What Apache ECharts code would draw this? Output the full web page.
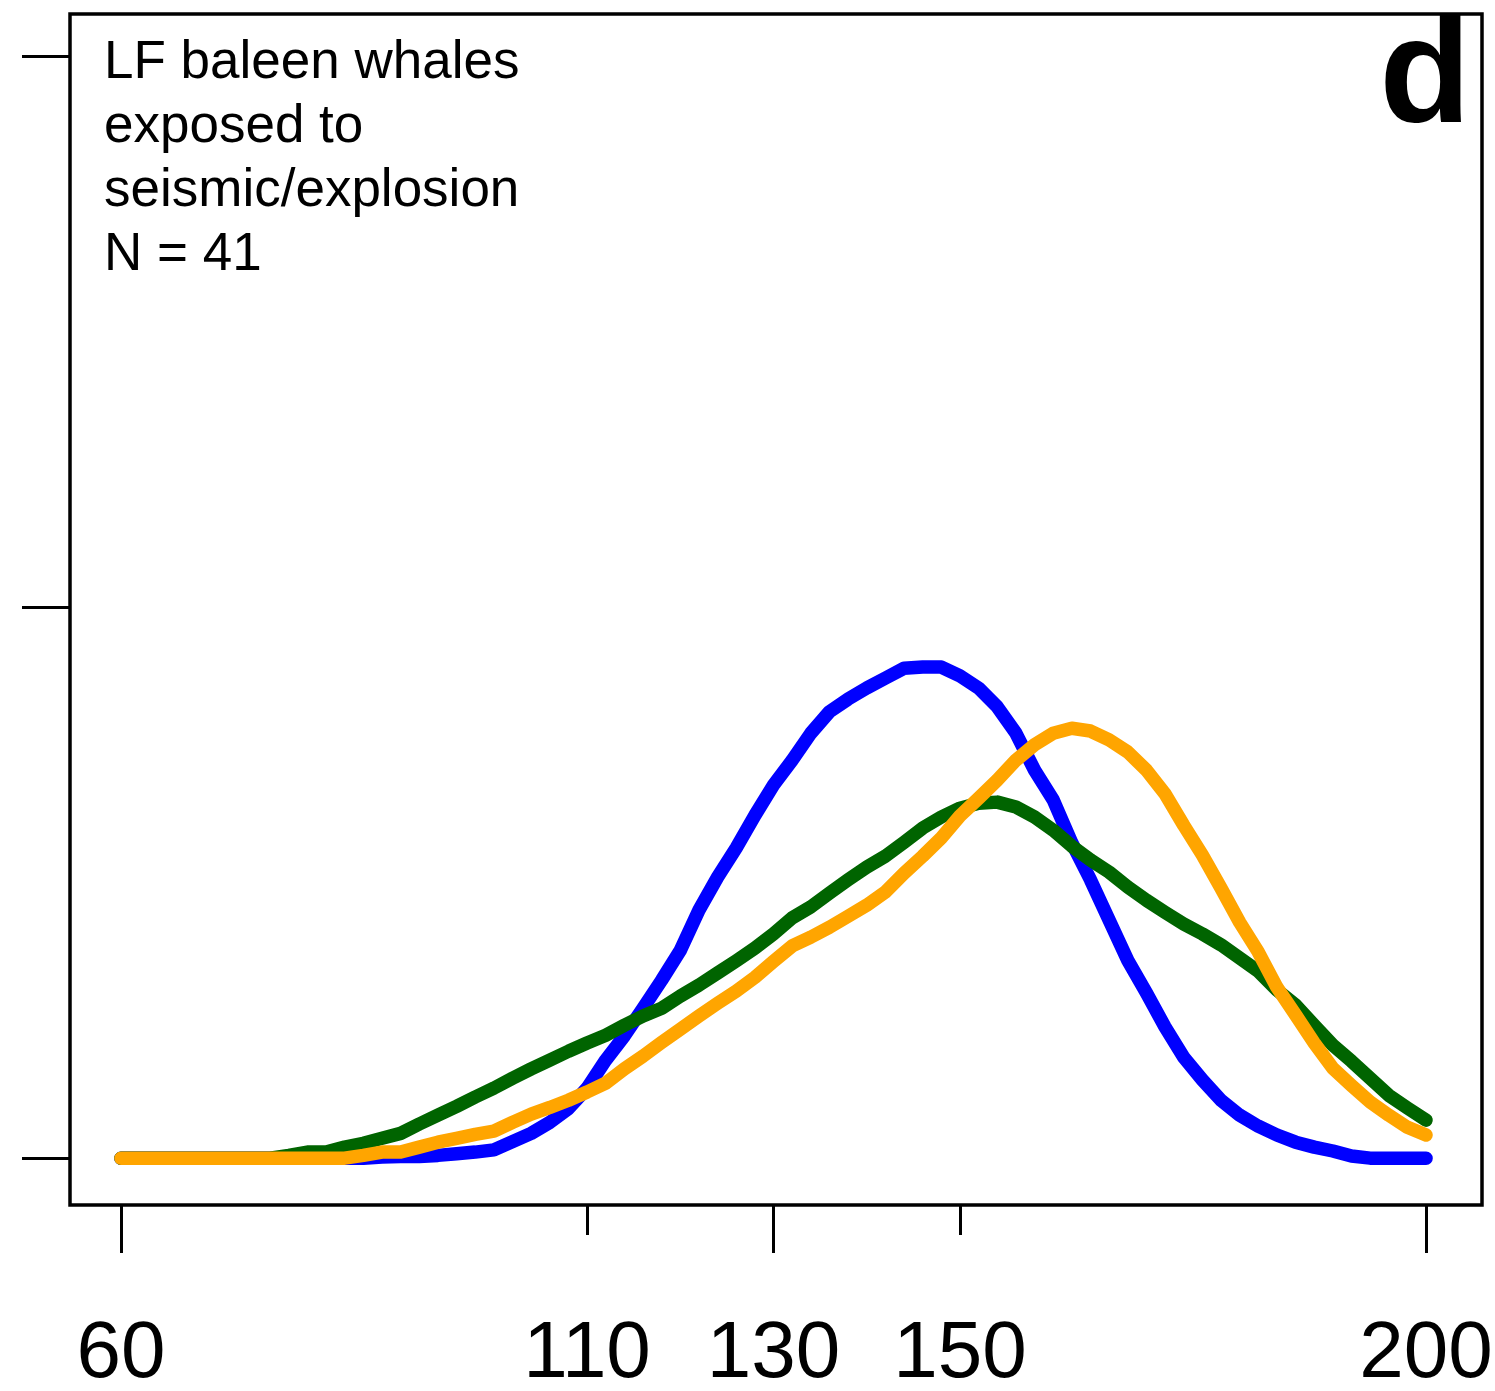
<!DOCTYPE html>
<html>
<head>
<meta charset="utf-8">
<script src="https://cdn.jsdelivr.net/npm/echarts@6/dist/echarts.min.js"></script>
<style>
  html, body { margin: 0; padding: 0; background: #fff; }
  #chart { width: 1495px; height: 1391px; }
</style>
</head>
<body>
<div id="chart"></div>
<script>
// x positions of the curve samples
var xValues = [60,62,64,66,68,70,72,74,76,78,80,82,84,86,88,90,92,94,96,98,
    100,102,104,106,108,110,112,114,116,118,120,122,124,126,128,130,132,134,136,138,
    140,142,144,146,148,150,152,154,156,158,160,162,164,166,168,170,172,174,176,178,
    180,182,184,186,188,190,192,194,196,198,200];

var blueValues = [0,0,0,0,0,0,0,0,0,0,0,0,0,0,0.002,0.003,0.003,0.005,0.008,0.011,
    0.015,0.03,0.045,0.065,0.09,0.127,0.178,0.222,0.272,0.323,0.377,0.45,0.51,0.563,0.622,0.677,0.722,0.771,0.81,0.833,
    0.853,0.871,0.889,0.891,0.891,0.875,0.853,0.819,0.771,0.704,0.65,0.572,0.505,0.432,0.359,0.30,0.238,0.183,0.142,0.105,
    0.078,0.058,0.042,0.029,0.02,0.013,0.004,0,0,0,0];

var greenValues = [0,0,0,0,0,0,0,0,0,0.005,0.011,0.011,0.02,0.027,0.036,0.045,0.062,0.078,0.094,0.111,
    0.127,0.145,0.162,0.178,0.194,0.209,0.223,0.241,0.258,0.272,0.294,0.314,0.336,0.358,0.381,0.407,0.436,0.456,0.481,0.505,
    0.528,0.548,0.573,0.599,0.619,0.635,0.644,0.646,0.637,0.619,0.595,0.566,0.541,0.519,0.492,0.468,0.446,0.425,0.407,0.387,
    0.363,0.339,0.305,0.278,0.241,0.205,0.176,0.145,0.114,0.091,0.069];

var orangeValues = [0,0,0,0,0,0,0,0,0,0,0,0,0,0.005,0.011,0.011,0.02,0.029,0.036,0.043,
    0.049,0.065,0.08,0.092,0.105,0.12,0.136,0.162,0.185,0.21,0.234,0.258,0.281,0.303,0.328,0.357,0.385,0.401,0.419,0.439,
    0.459,0.483,0.517,0.548,0.581,0.621,0.653,0.686,0.722,0.75,0.771,0.78,0.775,0.759,0.737,0.704,0.661,0.604,0.55,0.49,
    0.428,0.374,0.31,0.26,0.209,0.163,0.132,0.102,0.078,0.056,0.042];

var xTickLabels = [60, 110, 130, 150, 200];
var longTicks = [60, 130, 200];
var shortTicks = [110, 150];
var yTicks = [0, 1, 2];

function pairs(ys) {
    var out = [];
    for (var i = 0; i < xValues.length; i++) {
        out.push([xValues[i], ys[i]]);
    }
    return out;
}

var lineSeries = function (data, color) {
    return {
        type: 'line',
        data: pairs(data),
        showSymbol: false,
        symbol: 'none',
        silent: true,
        lineStyle: { color: color, width: 13.5, cap: 'round', join: 'round' }
    };
};

var myChart = echarts.init(document.getElementById('chart'));
var option = {
    animation: false,
    backgroundColor: '#fff',
    title: [
        {
            text: 'LF baleen whales\nexposed to\nseismic/explosion\nN = 41',
            left: 104,
            top: 31,
            padding: 0,
            textStyle: {
                fontFamily: 'Liberation Sans',
                fontSize: 53,
                lineHeight: 64,
                fontWeight: 'normal',
                color: '#000'
            }
        },
        {
            text: 'd',
            right: 24,
            top: 6,
            padding: 0,
            textStyle: {
                fontFamily: 'Liberation Sans',
                fontSize: 150,
                lineHeight: 150,
                fontWeight: 'bold',
                color: '#000'
            }
        }
    ],
    grid: {
        left: 70, top: 14, right: 13, bottom: 186,
        outerBoundsMode: 'none',
        containLabel: false,
        show: true,
        borderColor: '#000',
        borderWidth: 3.5,
        backgroundColor: 'transparent'
    },
    xAxis: [
        {
            type: 'value',
            min: 54.53,
            max: 206.0,
            position: 'bottom',
            axisLine: { show: false, onZero: false },
            splitLine: { show: false },
            axisTick: {
                show: true,
                inside: false,
                customValues: longTicks,
                length: 48,
                lineStyle: { color: '#000', width: 3 }
            },
            axisLabel: {
                show: true,
                customValues: xTickLabels,
                margin: 110,
                fontFamily: 'Liberation Sans',
                fontSize: 80,
                color: '#000'
            }
        },
        {
            type: 'value',
            min: 54.53,
            max: 206.0,
            position: 'bottom',
            axisLine: { show: false, onZero: false },
            splitLine: { show: false },
            axisTick: {
                show: true,
                inside: false,
                customValues: shortTicks,
                length: 30,
                lineStyle: { color: '#000', width: 3 }
            },
            axisLabel: { show: false }
        }
    ],
    yAxis: {
        type: 'value',
        min: -0.085,
        max: 2.076,
        axisLine: { show: false, onZero: false },
        splitLine: { show: false },
        axisTick: {
            show: true,
            customValues: yTicks,
            length: 48,
            lineStyle: { color: '#000', width: 3 }
        },
        axisLabel: { show: false }
    },
    series: [
        lineSeries(blueValues, '#0000ff'),
        lineSeries(greenValues, '#006400'),
        lineSeries(orangeValues, '#ffa500')
    ]
};
myChart.setOption(option);
</script>
</body>
</html>
